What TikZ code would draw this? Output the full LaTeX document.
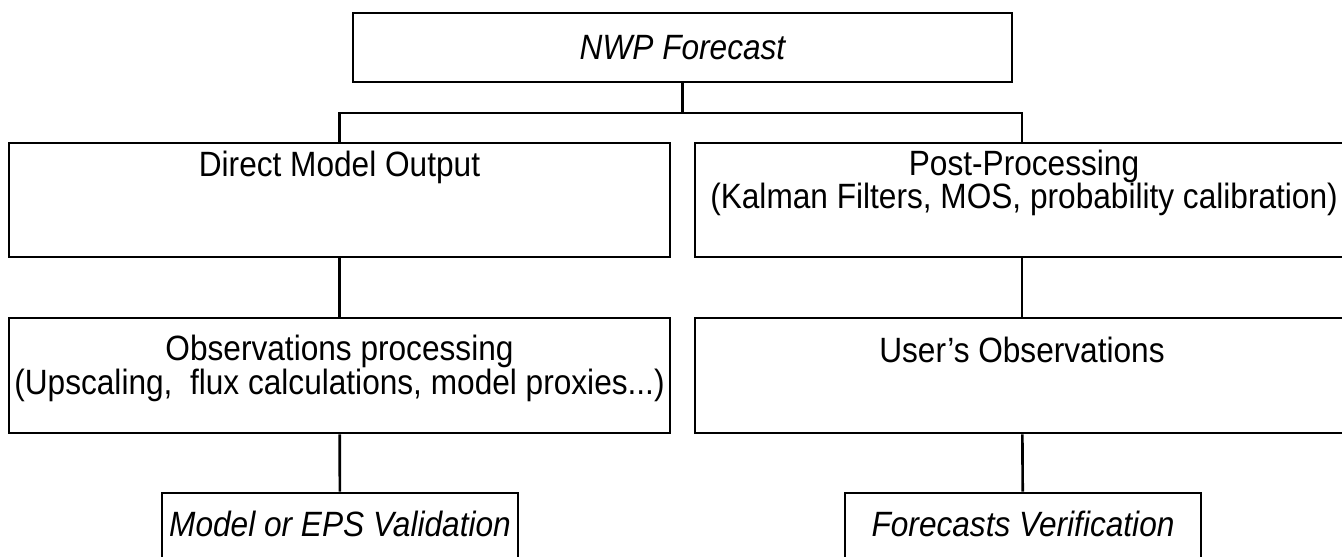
\documentclass[tikz,border=0pt]{standalone}
\usepackage{fontspec}
\setmainfont{Liberation Sans}[FakeStretch=0.9]
\usepackage{tikz}
\usetikzlibrary{calc,positioning}

\begin{document}
\begin{tikzpicture}[x=0.02cm,y=-0.02cm,
    box/.style={draw,line width=1.5pt,inner sep=0pt},
    lab/.style={anchor=base,align=center,inner sep=0pt,font=\fontsize{20}{19}\selectfont},
    link/.style={line width=1.5pt}]
  \fill[white] (0,0) rectangle (1342,557);
  \useasboundingbox (0,0) rectangle (1342,557);
  % boxes
  \node[box,minimum width=13.18cm,minimum height=1.38cm] (nwp) at (682.5,47.5) {};
  \node[box,minimum width=13.22cm,minimum height=2.28cm] (dmo) at (339.5,200) {};
  \node[box,minimum width=13.08cm,minimum height=2.28cm] (post) at (1022,200) {};
  \node[box,minimum width=13.22cm,minimum height=2.30cm] (obs) at (339.5,375.5) {};
  \node[box,minimum width=13.08cm,minimum height=2.30cm] (usr) at (1022,375.5) {};
  \node[box,minimum width=7.12cm,minimum height=1.74cm] (val) at (340,536.5) {};
  \node[box,minimum width=7.12cm,minimum height=1.74cm] (ver) at (1023,536.5) {};
  % texts (base = last line)
  \node[lab,font=\fontsize{20}{19}\selectfont\itshape] (nwptxt) at (682.5,60) {NWP Forecast};
  \node[lab] (dmotxt) at (339.5,177) {Direct Model Output};
  \node[lab] (posttxt) at (1024,209) {Post-Processing\\(Kalman Filters, MOS, probability calibration)};
  \node[lab] (obstxt) at (339.5,394) {Observations processing\\(Upscaling,\ \ flux calculations, model proxies...)};
  \node[lab] (usrtxt) at (1022,362) {User's Observations};
  \node[lab,font=\fontsize{20}{19}\selectfont\itshape] (valtxt) at (340,536) {Model or EPS Validation};
  \node[lab,font=\fontsize{20}{19}\selectfont\itshape] (vertxt) at (1023,536) {Forecasts Verification};
  % connectors
  \coordinate (split) at (682.5,113);
  \draw[link] (nwp) -- (split);
  \draw[link] (dmo) |- (split) -| (post);
  \foreach \from/\to in {dmo/obs,post/usr,obs/val,usr/ver}
    \draw[link] (\from) -- (\to);
\end{tikzpicture}
\end{document}
